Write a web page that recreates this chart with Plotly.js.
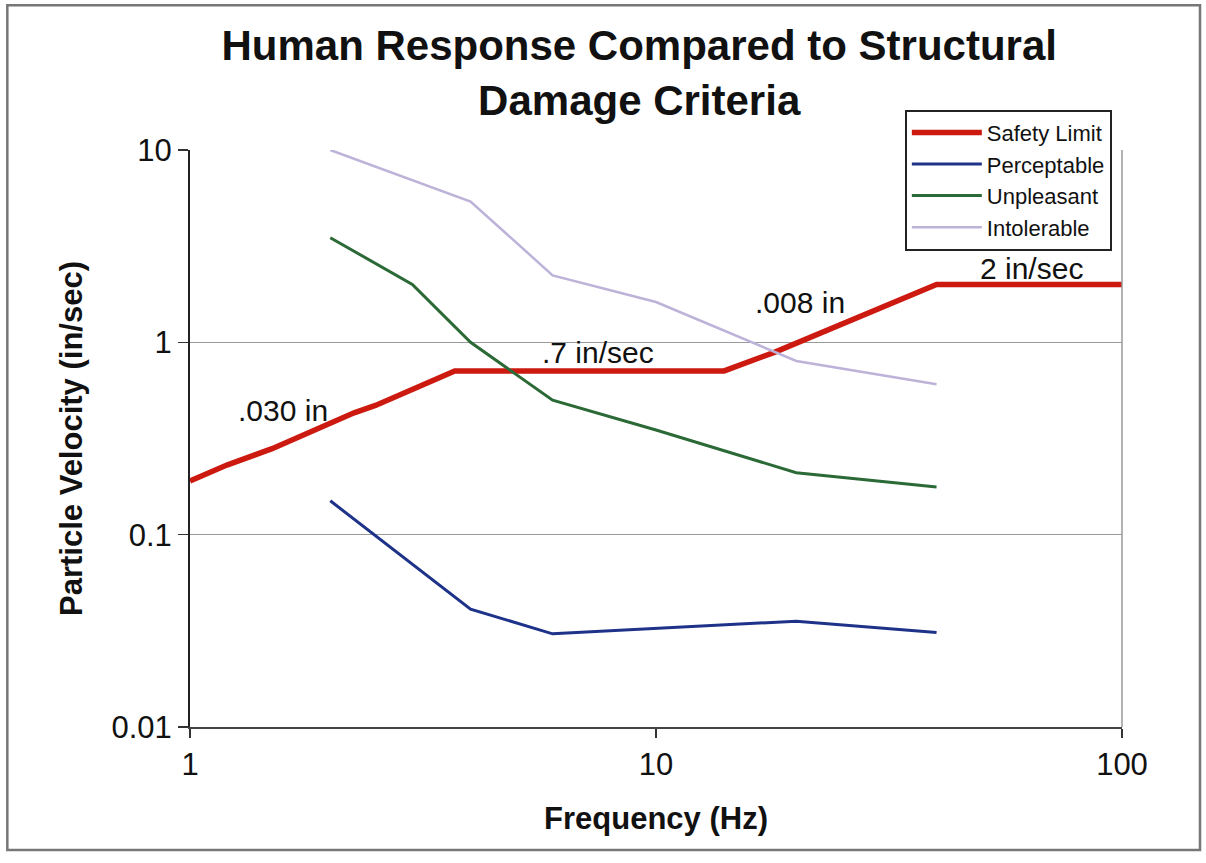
<!DOCTYPE html>
<html>
<head>
<meta charset="utf-8">
<script src="https://cdn.plot.ly/plotly-3.0.1.min.js"></script>
<style>html,body{margin:0;padding:0;background:#fff;}#chart{width:1206px;height:863px;}</style>
</head>
<body>
<div id="chart"></div>
<script>
// Safety Limit (red)
const safetyFreq = [1, 1.2, 1.5, 1.75, 2, 2.25, 2.5, 3, 3.7, 14, 18, 40, 100];
const safetyVel  = [0.19, 0.23, 0.28, 0.33, 0.38, 0.43, 0.47, 0.57, 0.71, 0.71, 0.89, 2.0, 2.0];
// Perceptable (blue)
const perceptFreq = [2, 4, 6, 10, 20, 40];
const perceptVel  = [0.15, 0.041, 0.0305, 0.0325, 0.0355, 0.031];
// Unpleasant (green)
const unpleasFreq = [2, 3, 4, 6, 10, 20, 40];
const unpleasVel  = [3.5, 2.0, 1.0, 0.5, 0.35, 0.21, 0.177];
// Intolerable (lavender)
const intolFreq = [2, 4, 6, 10, 20, 40];
const intolVel  = [10, 5.4, 2.23, 1.62, 0.80, 0.605];

const seriesNames = ["Safety Limit", "Perceptable", "Unpleasant", "Intolerable"];
const xTickVals = [1, 10, 100];
const xTickText = ["1", "10", "100"];
const yTickVals = [0.01, 0.1, 1, 10];
const yTickText = ["0.01", "0.1", "1", "10"];
const labelTexts = [".030 in", ".7 in/sec", ".008 in", "2 in/sec"];

const FONT = "Liberation Sans, Arial, sans-serif";

const traces = [
  {x: safetyFreq, y: safetyVel, name: seriesNames[0], mode: "lines", line: {color: "#cc1a10", width: 5.5}},
  {x: perceptFreq, y: perceptVel, name: seriesNames[1], mode: "lines", line: {color: "#1d3288", width: 3}},
  {x: unpleasFreq, y: unpleasVel, name: seriesNames[2], mode: "lines", line: {color: "#2b6a36", width: 3}},
  {x: intolFreq, y: intolVel, name: seriesNames[3], mode: "lines", line: {color: "#bdb2d8", width: 2.5}}
];

const labelPos = [[1.58, 0.44], [7.5, 0.89], [20.4, 1.62], [64, 2.43]];
const annotations = labelTexts.map((t, i) => ({
  x: Math.log10(labelPos[i][0]), y: Math.log10(labelPos[i][1]),
  xref: "x", yref: "y", text: t, showarrow: false,
  font: {family: FONT, size: 30, color: "#111"}
}));

const layout = {
  width: 1206, height: 863,
  margin: {l: 190, r: 84, t: 150, b: 136},
  paper_bgcolor: "#fff", plot_bgcolor: "#fff",
  font: {family: FONT, color: "#111"},
  title: {
    text: "<b>Human Response Compared to Structural<br>Damage Criteria</b>",
    font: {family: FONT, size: 42, color: "#111"},
    x: 0.53, xref: "container", xanchor: "center",
    y: 0.93, yref: "container", yanchor: "top"
  },
  xaxis: {
    type: "log", range: [0, 2],
    tickvals: xTickVals, ticktext: xTickText,
    ticks: "outside", ticklen: 9, tickcolor: "#333", tickwidth: 1.5,
    showline: true, linecolor: "#444", linewidth: 2,
    showgrid: false, zeroline: false,
    tickfont: {family: FONT, size: 31, color: "#111"},
    title: {text: "<b>Frequency (Hz)</b>", font: {family: FONT, size: 31, color: "#111"}, standoff: 26}
  },
  yaxis: {
    type: "log", range: [-2, 1],
    tickvals: yTickVals, ticktext: yTickText,
    ticks: "outside", ticklen: 10, tickcolor: "#333", tickwidth: 1.5,
    showline: true, linecolor: "#222", linewidth: 2,
    showgrid: true, gridcolor: "#9a9a9a", gridwidth: 1.2,
    zeroline: false,
    tickfont: {family: FONT, size: 31, color: "#111"},
    title: {text: "<b>Particle Velocity (in/sec)</b>", font: {family: FONT, size: 31, color: "#111"}, standoff: 20}
  },
  legend: {
    x: 0.767, y: 1.07, xanchor: "left", yanchor: "top",
    bgcolor: "#fff", bordercolor: "#222", borderwidth: 2,
    font: {family: FONT, size: 22, color: "#111"},
    itemwidth: 70, tracegroupgap: 0
  },
  showlegend: true,
  annotations: annotations,
  shapes: [
    {type: "line", xref: "paper", yref: "paper", x0: 1, x1: 1, y0: 0, y1: 1, line: {color: "#9a9a9a", width: 1.5}},
    {type: "rect", xref: "paper", yref: "paper", x0: -0.196, x1: 1.0837, y0: -0.213, y1: 1.251, line: {color: "#777", width: 2.5}, layer: "below"}
  ]
};

Plotly.newPlot("chart", traces, layout, {displayModeBar: false, staticPlot: true});
</script>
</body>
</html>
